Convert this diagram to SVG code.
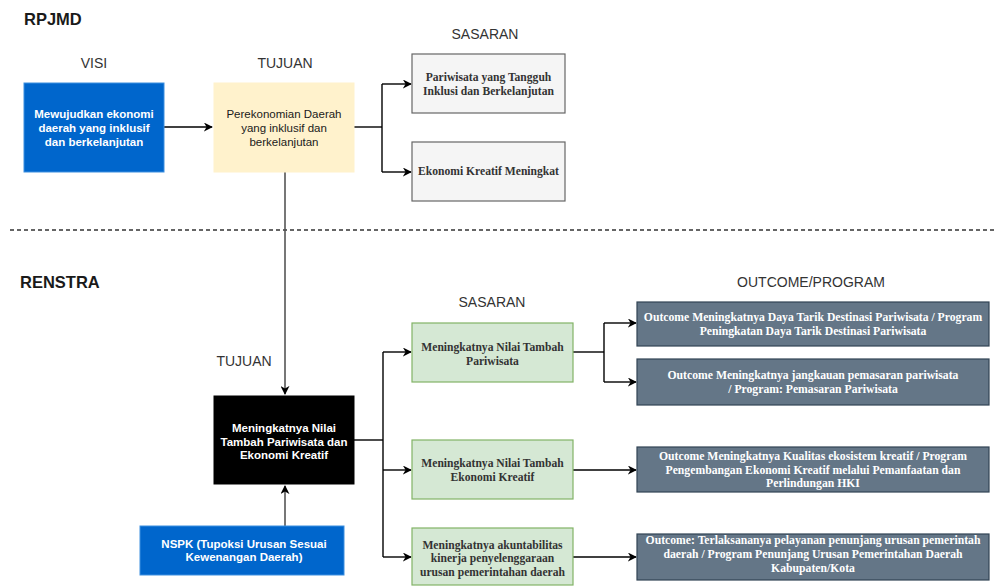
<svg xmlns="http://www.w3.org/2000/svg" width="994" height="586" viewBox="0 0 994 586">
<defs>
<marker id="arr" viewBox="0 0 10 10" refX="9" refY="5" markerWidth="9" markerHeight="9" markerUnits="userSpaceOnUse" orient="auto">
<path d="M0,0 L10,5 L0,10 L3,5 z" fill="#000"/>
</marker>
<marker id="arrg" viewBox="0 0 10 10" refX="9" refY="5" markerWidth="9" markerHeight="9" markerUnits="userSpaceOnUse" orient="auto">
<path d="M0,0 L10,5 L0,10 L3,5 z" fill="#000"/>
</marker>
</defs>
<style>
.title{font-family:"Liberation Sans",Arial,sans-serif;font-weight:bold;font-size:16.5px;fill:#1a1a1a}
.lbl{font-family:"Liberation Sans",Arial,sans-serif;font-size:14px;fill:#333;text-anchor:middle}
.sb{font-family:"Liberation Sans",Arial,sans-serif;font-size:11.5px;font-weight:bold;fill:#fff;text-anchor:middle}
.sr{font-family:"Liberation Sans",Arial,sans-serif;font-size:11.5px;fill:#1a1a1a;text-anchor:middle}
.serif{font-family:"Liberation Serif","Times New Roman",serif;font-size:11.6px;font-weight:bold;fill:#333;text-anchor:middle}
.serifw{font-family:"Liberation Serif","Times New Roman",serif;font-size:11.7px;font-weight:bold;fill:#fff;text-anchor:middle}
.conn{fill:none;stroke:#000;stroke-width:1.4}
.conng{fill:none;stroke:#555;stroke-width:1.6}
.blue{fill:#0066cc;stroke:#3d8fe0;stroke-width:1}
.yellow{fill:#fff2cc;stroke:#fff2cc;stroke-width:1}
.grey{fill:#f5f5f5;stroke:#666;stroke-width:1.2}
.green{fill:#d5e8d4;stroke:#82b366;stroke-width:1.2}
.slate{fill:#647687;stroke:#314354;stroke-width:1.2}
</style>
<rect width="994" height="586" fill="#fff"/>

<text class="title" x="24" y="25">RPJMD</text>
<text class="title" x="20" y="288">RENSTRA</text>
<line x1="10" y1="230" x2="994" y2="230" stroke="#333" stroke-width="1.4" stroke-dasharray="4,3"/>

<text class="lbl" x="94" y="68">VISI</text>
<text class="lbl" x="285" y="68">TUJUAN</text>
<text class="lbl" x="485" y="39">SASARAN</text>
<text class="lbl" x="244" y="366">TUJUAN</text>
<text class="lbl" x="492" y="307">SASARAN</text>
<text class="lbl" x="811" y="287">OUTCOME/PROGRAM</text>

<g id="connectors">
<path class="conn" d="M164,127 L212,127" marker-end="url(#arr)"/>
<path class="conn" d="M354,127 L382,127"/>
<path class="conn" d="M382,84 L382,172"/>
<path class="conn" d="M382,84 L411,84" marker-end="url(#arr)"/>
<path class="conn" d="M382,172 L411,172" marker-end="url(#arr)"/>
<path class="conng" d="M285,172 L285,394" marker-end="url(#arrg)"/>
<path class="conng" d="M285,526 L285,486" marker-end="url(#arrg)"/>
<path class="conn" d="M354,440 L383,440"/>
<path class="conn" d="M383,352 L383,557"/>
<path class="conn" d="M383,352 L411,352" marker-end="url(#arr)"/>
<path class="conn" d="M383,470 L411,470" marker-end="url(#arr)"/>
<path class="conn" d="M383,557 L411,557" marker-end="url(#arr)"/>
<path class="conn" d="M573,352 L604,352"/>
<path class="conn" d="M604,323 L604,382"/>
<path class="conn" d="M604,323 L636,323" marker-end="url(#arr)"/>
<path class="conn" d="M604,382 L636,382" marker-end="url(#arr)"/>
<path class="conn" d="M573,470 L636,470" marker-end="url(#arr)"/>
<path class="conn" d="M573,557 L636,557" marker-end="url(#arr)"/>
</g>

<g id="visi">
<rect class="blue" x="24" y="83" width="140" height="89"/>
<text class="sb" x="94" y="118">Mewujudkan ekonomi</text>
<text class="sb" x="94" y="132">daerah yang inklusif</text>
<text class="sb" x="94" y="146">dan berkelanjutan</text>
</g>

<g id="tujuan-rpjmd">
<rect class="yellow" x="214" y="83" width="140" height="89"/>
<text class="sr" x="284" y="118">Perekonomian Daerah</text>
<text class="sr" x="284" y="132">yang inklusif dan</text>
<text class="sr" x="284" y="146">berkelanjutan</text>
</g>

<g id="sasaran-1">
<rect class="grey" x="412" y="54" width="153" height="59"/>
<text class="serif" x="488.5" y="81">Pariwisata yang Tangguh</text>
<text class="serif" x="488.5" y="95">Inklusi dan Berkelanjutan</text>
</g>

<g id="sasaran-2">
<rect class="grey" x="412" y="142" width="153" height="59"/>
<text class="serif" x="488.5" y="175">Ekonomi Kreatif Meningkat</text>
</g>

<g id="tujuan-renstra">
<rect x="214" y="396" width="140" height="88" fill="#000" stroke="#000"/>
<text class="sb" x="284" y="432">Meningkatnya Nilai</text>
<text class="sb" x="284" y="446">Tambah Pariwisata dan</text>
<text class="sb" x="284" y="459">Ekonomi Kreatif</text>
</g>

<g id="nspk">
<rect class="blue" x="140" y="526" width="204" height="49"/>
<text class="sb" x="244" y="548">NSPK (Tupoksi Urusan Sesuai</text>
<text class="sb" x="244" y="561">Kewenangan Daerah)</text>
</g>

<g id="sasaran-r1">
<rect class="green" x="412" y="323" width="161" height="59"/>
<text class="serif" x="492.5" y="351">Meningkatnya Nilai Tambah</text>
<text class="serif" x="492.5" y="365">Pariwisata</text>
</g>

<g id="sasaran-r2">
<rect class="green" x="412" y="440" width="161" height="59"/>
<text class="serif" x="492.5" y="467">Meningkatnya Nilai Tambah</text>
<text class="serif" x="492.5" y="481">Ekonomi Kreatif</text>
</g>

<g id="sasaran-r3">
<rect class="green" x="412" y="528" width="161" height="57"/>
<text class="serif" x="492.5" y="549">Meningkatnya akuntabilitas</text>
<text class="serif" x="492.5" y="562">kinerja penyelenggaraan</text>
<text class="serif" x="492.5" y="576">urusan pemerintahan daerah</text>
</g>

<g id="outcome-1">
<rect class="slate" x="637" y="302" width="352" height="44"/>
<text class="serifw" x="813" y="321">Outcome Meningkatnya Daya Tarik Destinasi Pariwisata / Program</text>
<text class="serifw" x="813" y="335">Peningkatan Daya Tarik Destinasi Pariwisata</text>
</g>

<g id="outcome-2">
<rect class="slate" x="637" y="359" width="352" height="46"/>
<text class="serifw" x="813" y="379">Outcome Meningkatnya jangkauan pemasaran pariwisata</text>
<text class="serifw" x="813" y="393">/  Program: Pemasaran Pariwisata</text>
</g>

<g id="outcome-3">
<rect class="slate" x="637" y="447" width="352" height="45"/>
<text class="serifw" x="813" y="460">Outcome Meningkatnya Kualitas ekosistem kreatif /  Program</text>
<text class="serifw" x="813" y="474">Pengembangan Ekonomi Kreatif melalui Pemanfaatan dan</text>
<text class="serifw" x="813" y="487">Perlindungan HKI</text>
</g>

<g id="outcome-4">
<rect class="slate" x="637" y="534" width="352" height="46"/>
<text class="serifw" x="813" y="544">Outcome: Terlaksananya pelayanan penunjang urusan pemerintah</text>
<text class="serifw" x="813" y="558">daerah / Program Penunjang Urusan Pemerintahan Daerah</text>
<text class="serifw" x="813" y="572">Kabupaten/Kota</text>
</g>
</svg>
